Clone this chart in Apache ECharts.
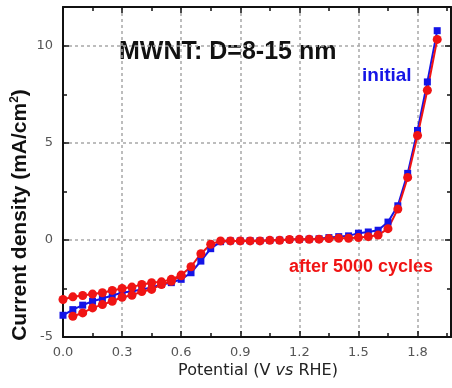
<!DOCTYPE html>
<html>
<head>
<meta charset="utf-8">
<script src="https://cdn.jsdelivr.net/npm/echarts@6/dist/echarts.min.js"></script>
<style>html,body{margin:0;padding:0;background:#fff}#c{width:452px;height:388px}</style>
</head>
<body>
<div id="c"></div>
<script>
// Potentials (V vs RHE)
var potential = [0,0.05,0.1,0.15,0.2,0.25,0.3,0.35,0.4,0.45,0.5,0.55,0.6,0.65,0.7,0.75,0.8,0.85,0.9,0.95,1.0,1.05,1.1,1.15,1.2,1.25,1.3,1.35,1.4,1.45,1.5,1.55,1.6,1.65,1.7,1.75,1.8,1.85,1.9];
// initial (mA/cm2)
var initialJ = [-3.88,-3.59,-3.36,-3.16,-3.02,-2.86,-2.72,-2.64,-2.55,-2.45,-2.29,-2.2,-2.03,-1.69,-1.09,-0.45,-0.09,-0.05,-0.05,-0.04,-0.04,-0.02,-0.01,0.02,0.03,0.04,0.06,0.12,0.17,0.21,0.35,0.41,0.5,0.92,1.76,3.43,5.64,8.14,10.78];
// after 5000 cycles, main branch
var afterJ = [-3.07,-2.93,-2.86,-2.79,-2.72,-2.6,-2.5,-2.43,-2.29,-2.2,-2.16,-2.03,-1.81,-1.38,-0.71,-0.22,-0.05,-0.05,-0.05,-0.05,-0.05,-0.02,-0.02,0.02,0.03,0.03,0.04,0.07,0.09,0.09,0.12,0.17,0.25,0.58,1.59,3.22,5.38,7.71,10.33];
// after 5000 cycles, lower (return) branch at low potential
var afterLowPotential = [0.05,0.1,0.15,0.2,0.25,0.3,0.35,0.4,0.45,0.5,0.55,0.6];
var afterLowJ = [-3.93,-3.76,-3.5,-3.33,-3.16,-2.95,-2.85,-2.66,-2.55,-2.3,-2.13,-1.85];
var xTicks = ['0.0','0.3','0.6','0.9','1.2','1.5','1.8'];
var yTicks = ['-5','0','5','10'];

function pairs(xs, ys){ return xs.map(function(x,i){ return [x, ys[i]]; }); }

var BLUE = '#1414e6', RED = '#f01414';
var chart = echarts.init(document.getElementById('c'));
function xAx(pos, show){
  return {type:'value', position:pos, min:0, max:1.97, interval:0.3,
    axisLine:{show:true, onZero:false, lineStyle:{color:'#111', width:2}},
    axisTick:{show:true, inside:true, length:6, lineStyle:{color:'#111', width:1.5}},
    minorTick:{show:true, splitNumber:2, length:4, lineStyle:{color:'#111', width:1.5}},
    splitLine:{show:show, lineStyle:{color:'#a8a8a8', width:1.5, type:[3,3]}},
    axisLabel:{show:show, showMaxLabel:false, margin:9, fontFamily:'DejaVu Sans', fontSize:13, color:'#555',
      formatter:function(v){ var s=v.toFixed(1); return xTicks.indexOf(s)>=0?s:''; }}
  };
}
function yAx(pos, show){
  return {type:'value', position:pos, min:-5, max:12, interval:5,
    axisLine:{show:true, onZero:false, lineStyle:{color:'#111', width:2}},
    axisTick:{show:true, inside:true, length:6, lineStyle:{color:'#111', width:1.5}},
    minorTick:{show:true, splitNumber:2, length:4, lineStyle:{color:'#111', width:1.5}},
    splitLine:{show:show, lineStyle:{color:'#a8a8a8', width:1.5, type:[3,3]}},
    axisLabel:{show:show, showMaxLabel:false, margin:10, fontFamily:'DejaVu Sans', fontSize:13, color:'#555',
      formatter:function(v){ var s=String(v); return yTicks.indexOf(s)>=0?s:''; }}
  };
}
chart.setOption({
  animation:false,
  backgroundColor:'#fff',
  grid:{left:63, right:1, top:7, bottom:51},
  xAxis:[xAx('bottom', true), xAx('top', false)],
  yAxis:[yAx('left', true), yAx('right', false)],
  series:[
    {name:'initial', type:'line', data:pairs(potential, initialJ), symbol:'rect', symbolSize:7,
      lineStyle:{color:BLUE, width:2}, itemStyle:{color:BLUE}},
    {name:'after 5000 cycles', type:'line', data:pairs(potential, afterJ), symbol:'circle', symbolSize:9,
      lineStyle:{color:RED, width:2}, itemStyle:{color:RED}},
    {name:'after 5000 cycles (return)', type:'line', data:pairs(afterLowPotential, afterLowJ), symbol:'circle', symbolSize:9,
      lineStyle:{color:RED, width:2}, itemStyle:{color:RED}}
  ],
  graphic:[
    {type:'text', x:119, y:52, style:{text:'MWNT: D=8-15 nm', fontFamily:'Liberation Sans', fontWeight:'bold', fontSize:25, fill:'#111', verticalAlign:'middle'}},
    {type:'text', x:362, y:76, style:{text:'initial', fontFamily:'Liberation Sans', fontWeight:'bold', fontSize:19, fill:BLUE, verticalAlign:'middle'}},
    {type:'text', x:289, y:267, style:{text:'after 5000 cycles', fontFamily:'Liberation Sans', fontWeight:'bold', fontSize:18, fill:RED, verticalAlign:'middle'}},
    {type:'text', x:20, y:215, rotation:Math.PI/2, style:{text:'Current density (mA/cm{sup|2})', fontFamily:'Liberation Sans', fontWeight:'bold', fontSize:21, fill:'#111', align:'center', verticalAlign:'middle',
      rich:{sup:{fontSize:12, fontWeight:'bold', fontFamily:'Liberation Sans', verticalAlign:'top', padding:[0,0,10,0]}}}},
    {type:'text', x:258, y:371, style:{text:'Potential (V {i|vs} RHE)', fontFamily:'DejaVu Sans', fontSize:16, fill:'#222', align:'center', verticalAlign:'middle',
      rich:{i:{fontStyle:'italic', fontFamily:'DejaVu Sans', fontSize:16}}}}
  ]
});
</script>
</body>
</html>
